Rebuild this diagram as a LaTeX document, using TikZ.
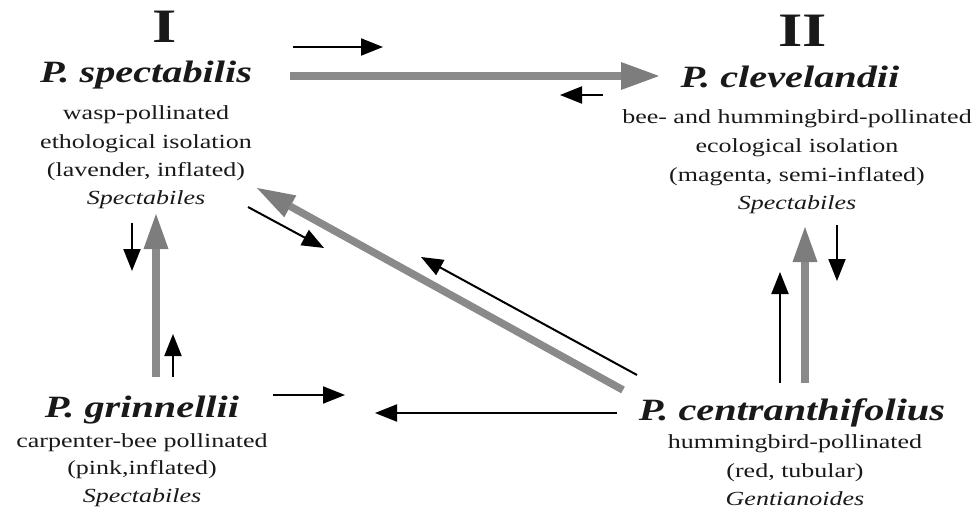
\documentclass[tikz,border=0pt]{standalone}
\usepackage{fontspec}
\setmainfont{Liberation Serif}[FakeStretch=1.3]
\usetikzlibrary{arrows.meta}
\definecolor{arrowgray}{RGB}{138,138,138}
\definecolor{headgray}{RGB}{125,125,125}
\definecolor{ink}{RGB}{25,25,25}
\tikzset{
  roman/.style={font=\fontsize{48}{52}\selectfont\bfseries, text=ink, anchor=base, inner sep=0pt},
  species/.style={font=\fontsize{31}{36}\selectfont\bfseries\itshape, text=ink, anchor=base, inner sep=0pt},
  desc/.style={font=\fontsize{20}{25}\selectfont, text=ink, anchor=base, inner sep=0pt},
  descit/.style={font=\fontsize{20}{25}\selectfont\itshape, text=ink, anchor=base, inner sep=0pt},
  blackarrow/.style={draw=black, line width=2pt, -{Triangle[length=22pt,width=17pt]}},
  grayarrow/.style={draw=arrowgray, line width=7.5pt, -{Triangle[length=38pt,width=28pt,fill=headgray,color=headgray,line width=0pt]}},
}
\begin{document}
\begin{tikzpicture}[x=1pt,y=-1pt]
\useasboundingbox (0,0) rectangle (977,513);

% Group labels
\node[roman] (romI) at (165,43) {I};
\node[roman] (romII) at (803,47) {II};

% P. spectabilis
\node[species] (spec) at (146,83) {P. spectabilis};
\node[desc] (specA) at (146,120) {wasp-pollinated};
\node[desc] (specB) at (146,148.5) {ethological isolation};
\node[desc] (specC) at (146,177) {(lavender, inflated)};
\node[descit] (specD) at (146,205) {Spectabiles};

% P. clevelandii
\node[species] (clev) at (790,88) {P. clevelandii};
\node[desc] (clevA) at (797,124) {bee- and hummingbird-pollinated};
\node[desc] (clevB) at (797,153) {ecological isolation};
\node[desc] (clevC) at (797,182) {(magenta, semi-inflated)};
\node[descit] (clevD) at (797,210) {Spectabiles};

% P. grinnellii
\node[species] (grin) at (142,417) {P. grinnellii};
\node[desc] (grinA) at (142,447) {carpenter-bee pollinated};
\node[desc] (grinB) at (142,474) {(pink,inflated)};
\node[descit] (grinC) at (142,502) {Spectabiles};

% P. centranthifolius
\node[species] (cent) at (792,420) {P. centranthifolius};
\node[desc] (centA) at (795,448) {hummingbird-pollinated};
\node[desc] (centB) at (795,477) {(red, tubular)};
\node[descit] (centC) at (795,505) {Gentianoides};

% arrow end points
\coordinate (t1s) at (293,47);   \coordinate (t1e) at (383,47);
\coordinate (t2s) at (290,76);   \coordinate (t2e) at (659,76);
\coordinate (t3s) at (603,95);   \coordinate (t3e) at (560,95);

\coordinate (d1s) at (248,207);  \coordinate (d1e) at (324,248);
\coordinate (d2s) at (623,390);  \coordinate (d2e) at (257,188);
\coordinate (d3s) at (637,375);  \coordinate (d3e) at (421,257);

\coordinate (h1s) at (273,395);  \coordinate (h1e) at (345,395);
\coordinate (h2s) at (617,413);  \coordinate (h2e) at (375,413);

\coordinate (l1s) at (132,223);  \coordinate (l1e) at (132,271);
\coordinate (l2s) at (156,377);  \coordinate (l2e) at (156,214);
\coordinate (l3s) at (173,377);  \coordinate (l3e) at (173,334);

\coordinate (r1s) at (837,225);  \coordinate (r1e) at (837,281);
\coordinate (r2s) at (805,383);  \coordinate (r2e) at (805,227);
\coordinate (r3s) at (780,383);  \coordinate (r3e) at (780,272);

% gray arrows
\draw[grayarrow] (t2s) -- (t2e);
\draw[grayarrow, -{Triangle[length=38pt,width=25pt,fill=headgray,color=headgray,line width=0pt]}] (d2s) -- (d2e);
\draw[grayarrow, -{Triangle[length=35pt,width=25pt,fill=headgray,color=headgray,line width=0pt]}] (l2s) -- (l2e);
\draw[grayarrow, -{Triangle[length=35pt,width=25pt,fill=headgray,color=headgray,line width=0pt]}] (r2s) -- (r2e);

% black arrows
\draw[blackarrow] (t1s) -- (t1e);
\draw[blackarrow] (t3s) -- (t3e);
\draw[blackarrow] (d1s) -- (d1e);
\draw[blackarrow] (d3s) -- (d3e);
\draw[blackarrow] (h1s) -- (h1e);
\draw[blackarrow] (h2s) -- (h2e);
\draw[blackarrow] (l1s) -- (l1e);
\draw[blackarrow] (l3s) -- (l3e);
\draw[blackarrow] (r1s) -- (r1e);
\draw[blackarrow] (r3s) -- (r3e);
\end{tikzpicture}
\end{document}
